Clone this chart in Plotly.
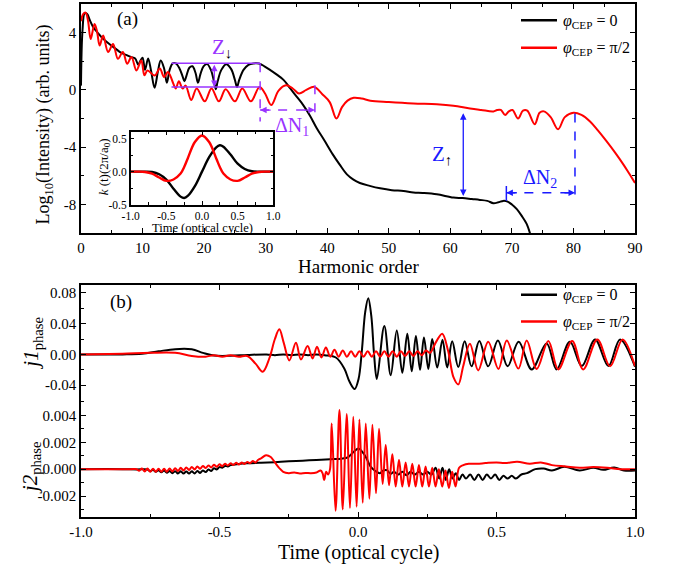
import plotly.graph_objects as go

# ---------------- panel (a): harmonic spectra ----------------
harm_cep0 = [0.0, 0.25, 0.6, 1.0, 1.4, 1.9, 2.4, 2.9, 3.5, 4.2, 4.9, 5.7, 6.5, 7.3, 8.1, 8.8, 9.3, 9.6,
             10.0, 10.4, 10.9, 11.4, 11.95, 12.5, 12.95, 13.5, 13.95, 14.4, 14.9, 15.4, 16.0, 16.5, 16.8,
             17.1, 17.6, 18.1, 18.6, 19.0, 19.4, 19.9, 20.5, 21.1, 21.6, 21.9, 22.2, 22.8, 23.6, 24.4,
             25.0, 25.35, 25.7, 26.4, 27.2, 28.0, 28.9, 29.8, 30.7, 31.7, 32.9, 34.0, 35.0, 36.1, 37.2,
             38.3, 39.5, 40.9, 42.0, 43.2, 44.2, 45.3, 46.9, 48.6, 50.5, 52.4, 54.0, 55.5, 57.8, 60.5,
             62.0, 63.5, 64.8, 66.0, 67.0, 67.8, 68.6, 69.3, 70.0, 70.8, 71.6, 72.4, 73.0]
logI_cep0 = [0.3, 4.2, 5.35, 5.3, 4.9, 4.45, 4.15, 3.9, 3.6, 3.35, 3.1, 2.85, 2.6, 2.45, 2.3, 2.2, 1.75, 2.0,
             2.25, 1.4, 2.2, 1.3, 0.15, 1.3, 2.05, 1.5, 0.5, 1.4, 1.85, 1.85, 1.5, 0.95, 0.6,
             0.95, 1.55, 1.65, 1.2, 0.5, 1.1, 1.65, 1.8, 1.4, 0.6, 0.05, 0.6, 1.4, 1.8, 1.45,
             0.7, 0.2, 0.7, 1.4, 1.75, 1.85, 1.85, 1.65, 1.4, 1.1, 0.7, 0.1, -0.45, -1.06, -1.8,
             -2.68, -3.5, -4.5, -5.2, -5.9, -6.25, -6.5, -6.7, -6.87, -7.0, -7.06, -7.17, -7.2, -7.29, -7.52,
             -7.55, -7.62, -7.68, -7.75, -7.91, -7.85, -7.75, -7.8, -8.0, -8.33, -8.8, -9.36, -10.1]

harm_cep90 = [0.0, 0.35, 0.75, 1.15, 1.57, 2.2, 2.6, 3.03, 3.6, 4.4, 5.2, 6.0, 6.8, 7.5, 8.2, 9.0, 9.8,
              10.3, 10.8, 11.97, 12.8, 13.5, 14.1, 14.5, 15.0, 15.4, 15.9, 16.5, 17.0, 17.9, 18.8, 20.1,
              21.2, 22.4, 23.5, 25.0, 26.2, 27.6, 29.0, 29.9, 30.9, 32.1, 33.3, 34.4, 35.4, 36.6, 37.9,
              39.2, 40.4, 41.5, 42.4, 43.3, 44.3, 45.6, 47.0, 50.0, 54.0, 57.8, 60.5, 63.2, 65.0, 67.0,
              67.6, 68.2, 68.9, 69.5, 70.1, 71.0, 71.8, 72.5, 73.7, 74.5, 75.2, 76.3, 77.5, 78.6, 80.0,
              81.3, 82.7, 84.0, 85.4, 86.8, 88.1, 89.0, 90.0]
logI_cep90 = [4.8, 5.3, 5.4, 4.8, 3.55, 4.6, 4.1, 3.1, 3.8, 2.65, 3.2, 2.17, 2.65, 1.82, 2.3, 1.36, 2.05,
              1.02, 1.36, 1.0, 1.5, 0.9, 1.25, 1.0, 0.44, 0.1, 0.6, 0.1, 0.3, -0.7, 0.1, -0.8,
              0.1, -0.8, 0.05, -0.8, 0.1, -0.8, 0.2, -0.25, -1.06, -0.05, 0.32, 0.1, -0.25, 0.0, 0.21,
              -0.3, -0.85, -2.0, -1.2, -0.75, -0.55, -0.6, -0.75, -0.85, -0.95, -1.0, -1.1, -1.3, -1.4, -1.5,
              -1.4, -1.4, -1.75, -1.5, -1.4, -2.0, -1.45, -1.45, -2.4, -1.6, -1.5, -1.9, -2.75, -1.9, -1.6,
              -1.75, -2.2, -2.85, -3.6, -4.4, -5.2, -5.8, -6.5]

# inset: k(t) in units of 2*pi/a0
t_k = [-1.0, -0.9, -0.8, -0.7, -0.6, -0.5, -0.4, -0.3, -0.25, -0.2, -0.1, 0.0,
       0.1, 0.2, 0.25, 0.3, 0.4, 0.5, 0.6, 0.7, 0.8, 0.9, 1.0]
k_cep0 = [0, 0, 0, -0.005, -0.04, -0.12, -0.26, -0.38, -0.40, -0.37, -0.22, 0.0,
          0.22, 0.37, 0.40, 0.38, 0.26, 0.12, 0.04, 0.005, 0, 0, 0]
k_cep90 = [0, 0, -0.005, -0.03, -0.09, -0.14, -0.12, -0.03, 0.07, 0.2, 0.45, 0.55,
           0.45, 0.2, 0.07, -0.03, -0.12, -0.14, -0.09, -0.03, -0.005, 0, 0]

# ---------------- panel (b): phase currents ----------------
t_j1_cep0 = [-1.0, -0.85, -0.78, -0.72, -0.66, -0.6, -0.56, -0.52, -0.46, -0.4, -0.33, -0.3, -0.27,
             -0.24, -0.21, -0.18, -0.15, -0.12, -0.08, -0.05, -0.03, -0.012, 0.002, 0.014, 0.026,
             0.037, 0.048, 0.058, 0.068, 0.095, 0.118, 0.14, 0.16, 0.178, 0.194, 0.209, 0.224,
             0.238, 0.254, 0.268, 0.286, 0.305, 0.322, 0.34, 0.362, 0.385, 0.41, 0.438, 0.47, 0.505,
             0.54, 0.58, 0.627, 0.681, 0.717, 0.765, 0.808, 0.856, 0.904, 0.946, 1.0]
j1_cep0 = [0.0, 0.0, 0.0008, 0.004, 0.0068, 0.0066, 0.002, -0.0015, -0.0018, -0.0008, 0.0, -0.001, 0.0,
           -0.001, 0.0, -0.001, 0.0, -0.001, -0.004, -0.018, -0.036, -0.045, -0.032, 0.005, 0.055,
           0.073, 0.05, 0.0, -0.032, 0.037, -0.027, 0.031, -0.024, 0.027, -0.022, 0.024, -0.020,
           0.022, -0.019, 0.020, -0.017, 0.019, -0.017, 0.017, -0.0165, 0.017, -0.0155, 0.0175, -0.0155, 0.018,
           -0.0155, 0.0165, -0.0195, 0.0143, -0.0195, 0.0165, -0.0152, 0.0195, -0.0152, 0.0195, -0.016]

t_j1_cep90 = [-1.0, -0.85, -0.75, -0.66, -0.6, -0.55, -0.52, -0.49, -0.46, -0.43, -0.40, -0.37, -0.344,
              -0.32, -0.30, -0.284, -0.268, -0.248, -0.224, -0.206, -0.182, -0.164, -0.148, -0.132, -0.116,
              -0.10, -0.085, -0.07, -0.055, -0.04, -0.025, -0.01, 0.005, 0.02, 0.035, 0.05, 0.065, 0.08,
              0.095, 0.11, 0.125, 0.14, 0.155, 0.17, 0.185, 0.2, 0.215, 0.23, 0.245, 0.26, 0.28, 0.304,
              0.325, 0.345, 0.362, 0.38, 0.404, 0.434, 0.47, 0.507, 0.537, 0.579, 0.609, 0.645, 0.687,
              0.723, 0.773, 0.813, 0.864, 0.91, 0.955, 1.0]
j1_cep90 = [0.0, 0.001, 0.002, 0.002, -0.002, -0.003, -0.001, -0.003, -0.001, -0.003, -0.002, -0.012, -0.0226,
            -0.005, 0.02, 0.0326, 0.015, -0.0078, 0.0152, -0.0065, 0.0109, -0.0052, 0.0100, -0.004, 0.0091,
            -0.003, 0.006, -0.003, 0.005, -0.003, 0.004, -0.003, 0.004, -0.003, 0.004, -0.003, 0.004, -0.003,
            0.004, -0.003, 0.004, -0.003, 0.004, -0.002, 0.004, -0.002, 0.004, -0.001, 0.005, 0.002, 0.015, 0.027,
            0.005, -0.03, -0.039, -0.015, 0.014, -0.0208, 0.0165, -0.019, 0.018, -0.0185, 0.018, -0.019, 0.0175,
            -0.0195, 0.0175, -0.0195, 0.0195, -0.0155, 0.0195, -0.0155]

t_j2_cep0 = [-1.0, -0.85, -0.8, -0.76, -0.75, -0.74, -0.73, -0.72, -0.71, -0.70, -0.69, -0.68, -0.67,
             -0.66, -0.65, -0.64, -0.63, -0.62, -0.61, -0.60, -0.59, -0.58, -0.57, -0.56, -0.55, -0.54,
             -0.53, -0.52, -0.51, -0.50, -0.49, -0.48, -0.47, -0.46, -0.43, -0.4, -0.35, -0.3, -0.25,
             -0.2, -0.15, -0.1, -0.06, -0.035, -0.015, 0.002, 0.015, 0.031, 0.045, 0.06, 0.079, 0.092,
             0.104, 0.118, 0.13, 0.145, 0.16, 0.175, 0.19, 0.205, 0.22, 0.235, 0.25, 0.265, 0.28, 0.293,
             0.305, 0.317, 0.329, 0.341, 0.353, 0.365, 0.377, 0.39, 0.405, 0.42, 0.435, 0.45, 0.465, 0.48,
             0.495, 0.51, 0.525, 0.54, 0.555, 0.57, 0.59, 0.61, 0.64, 0.67, 0.7, 0.745, 0.8, 0.85, 0.885,
             0.925, 0.96, 1.0]
j2_cep0 = [0.0, 0.0, -0.00002, -0.00002, -0.00015, -0.00005, -0.0002, -0.00008, -0.00024, -0.0001, -0.00027,
           -0.00013, -0.0003, -0.00015, -0.00032, -0.00016, -0.00033, -0.00017, -0.00033, -0.00016, -0.00032,
           -0.00014, -0.00028, -0.0001, -0.00022, -0.00003, -0.00013, 0.00006, -0.00002, 0.00015, 0.0001,
           0.00024, 0.0002, 0.0003, 0.00038, 0.00043, 0.00048, 0.00052, 0.00058, 0.00063, 0.00068, 0.00074,
           0.00078, 0.0009, 0.0013, 0.00153, 0.0013, 0.0008, 0.0002, -0.0001, -0.0003, -0.0001, -0.00007,
           -0.00035, -0.0002, -0.0004, -0.0002, -0.00045, -0.0002, -0.0004, -0.0002, -0.0004, -0.0002,
           -0.0004, 0.0001, -0.0007, 0.0001, -0.0008, 0.0, -0.0007, -0.0003, -0.0008, -0.0004, -0.0007,
           -0.0004, -0.0008, -0.0004, -0.0008, -0.0004, -0.0007, -0.0004, -0.0008, -0.0005, -0.0007, -0.0005,
           -0.0007, -0.0004, -0.0003, 0.0, 0.00005, -0.0001, 0.00017, -0.0001, 0.0001, -0.00005, 0.00012,
           -0.0001, -0.0001]

t_j2_cep90 = [-1.0, -0.82, -0.80, -0.79, -0.78, -0.77, -0.76, -0.75, -0.74, -0.73, -0.72, -0.71, -0.70,
              -0.69, -0.68, -0.67, -0.66, -0.65, -0.64, -0.63, -0.62, -0.61, -0.60, -0.59, -0.58, -0.57,
              -0.56, -0.55, -0.54, -0.53, -0.52, -0.51, -0.50, -0.49, -0.48, -0.47, -0.46, -0.45, -0.44,
              -0.43, -0.42, -0.41, -0.40, -0.39, -0.38, -0.37, -0.36, -0.35, -0.332, -0.315, -0.3, -0.285,
              -0.27, -0.25, -0.23, -0.21, -0.19, -0.17, -0.15, -0.135, -0.128, -0.122, -0.115, -0.108,
              -0.101, -0.095, -0.081, -0.067, -0.055, -0.041, -0.029, -0.017, -0.005, 0.005, 0.017, 0.028,
              0.041, 0.052, 0.065, 0.076, 0.089, 0.100, 0.112, 0.124, 0.136, 0.148, 0.160, 0.172, 0.184,
              0.196, 0.208, 0.220, 0.232, 0.244, 0.256, 0.268, 0.280, 0.292, 0.304, 0.316, 0.328, 0.340,
              0.352, 0.365, 0.38, 0.4, 0.43, 0.46, 0.5, 0.53, 0.575, 0.62, 0.66, 0.7, 0.75, 0.8, 0.85,
              0.9, 0.95, 1.0]
j2_cep90 = [0.0, 0.0, 0.0, -0.00012, 0.00005, -0.00018, 0.00004, -0.0002, 0.00003, -0.0002, 0.00003, -0.0002,
            0.00003, -0.00019, 0.00005, -0.00017, 0.00007, -0.00014, 0.0001, -0.0001, 0.00013, -0.00006,
            0.00016, -0.00002, 0.0002, 0.00003, 0.00024, 0.00008, 0.00028, 0.00013, 0.00032, 0.00018,
            0.00036, 0.00022, 0.0004, 0.00027, 0.00044, 0.0003, 0.00047, 0.00034, 0.0005, 0.00038, 0.00054,
            0.00044, 0.0006, 0.0005, 0.0007, 0.0008, 0.00104, 0.0009, 0.0005, 0.0001, -0.0002, -0.0003,
            -0.00025, -0.00032, -0.00028, -0.0003, -0.00025, -0.0001, -0.0003, -0.0008, -0.0002, -0.0004,
            0.0, 0.0034, -0.0031, 0.0044, -0.0030, 0.0041, -0.0029, 0.0039, -0.0028, 0.0037, -0.0025, 0.0034,
            -0.0022, 0.0033, -0.0018, 0.0030, -0.0011, 0.0018, -0.0012, 0.0011, -0.0013, 0.0007, -0.0013,
            0.0005, -0.0013, 0.0004, -0.0013, 0.0003, -0.0013, 0.0002, -0.0013, 0.0001, -0.0013, 0.0,
            -0.0013, -0.0001, -0.0014, -0.0002, -0.0013, 0.0001, 0.0003, 0.0004, 0.0004, 0.00045, 0.0005,
            0.00045, 0.00055, 0.0004, 0.0005, 0.0003, 0.0002, 0.0001, 0.00015, 0.0001, 0.0, 0.0]

# tick labels (hyphen minus, as typeset)
harm_ticks = [0, 10, 20, 30, 40, 50, 60, 70, 80, 90]
logI_ticks = [-8, -4, 0, 4]
logI_ticktext = ["-8", "-4", "0", "4"]
cycle_ticks = [-1.0, -0.5, 0.0, 0.5, 1.0]
cycle_ticktext = ["-1.0", "-0.5", "0.0", "0.5", "1.0"]
k_ticks = [-0.5, 0.0, 0.5]
k_ticktext = ["-0.5", "0.0", "0.5"]
j1_ticks = [-0.04, 0.0, 0.04, 0.08]
j1_ticktext = ["-0.04", "0.00", "0.04", "0.08"]
j2_ticks = [-0.002, 0.0, 0.002, 0.004]
j2_ticktext = ["-0.002", "0.000", "0.002", "0.004"]

# ---------------- figure geometry ----------------
W, H = 678, 570
L, R, T, B = 81, 635, 2, 517


def fx(px):
    return (px - L) / (R - L)


def fy(py):
    return (B - py) / (B - T)


FONT = "Liberation Serif"
BLACK = "#000000"
RED = "#ff0000"
PURPLE = "#9933ff"
BLUE = "#1a1aff"

fig = go.Figure()

line_kw = dict(shape="spline", smoothing=1.0, width=2)

fig.add_trace(go.Scatter(x=harm_cep0, y=logI_cep0, mode="lines", xaxis="x", yaxis="y",
                         line=dict(color=BLACK, **line_kw), showlegend=False))
fig.add_trace(go.Scatter(x=harm_cep90, y=logI_cep90, mode="lines", xaxis="x", yaxis="y",
                         line=dict(color=RED, **line_kw), showlegend=False))

fig.add_trace(go.Scatter(x=t_k, y=k_cep0, mode="lines", xaxis="x4", yaxis="y4",
                         line=dict(color=BLACK, shape="spline", width=2.4), showlegend=False))
fig.add_trace(go.Scatter(x=t_k, y=k_cep90, mode="lines", xaxis="x4", yaxis="y4",
                         line=dict(color=RED, shape="spline", width=2.4), showlegend=False))

fig.add_trace(go.Scatter(x=t_j1_cep0, y=j1_cep0, mode="lines", xaxis="x2", yaxis="y2",
                         line=dict(color=BLACK, **line_kw), showlegend=False))
fig.add_trace(go.Scatter(x=t_j1_cep90, y=j1_cep90, mode="lines", xaxis="x2", yaxis="y2",
                         line=dict(color=RED, **line_kw), showlegend=False))
fig.add_trace(go.Scatter(x=t_j2_cep0, y=j2_cep0, mode="lines", xaxis="x3", yaxis="y3",
                         line=dict(color=BLACK, **line_kw), showlegend=False))
fig.add_trace(go.Scatter(x=t_j2_cep90, y=j2_cep90, mode="lines", xaxis="x3", yaxis="y3",
                         line=dict(color=RED, **line_kw), showlegend=False))

tickfont = dict(family=FONT, size=15, color=BLACK)
axis_common = dict(showline=True, linecolor=BLACK, linewidth=1.5, ticks="inside", ticklen=5,
                   tickwidth=1.2, tickcolor=BLACK, showgrid=False, zeroline=False,
                   tickfont=tickfont, tickmode="array")
inset_common = {**axis_common, "tickfont": dict(family=FONT, size=11.5, color=BLACK), "ticklen": 4}


def minor(dt):
    return dict(tickmode="linear", tick0=0, dtick=dt, ticks="inside", ticklen=3,
                tickcolor=BLACK, tickwidth=1, showgrid=False)


fig.update_layout(
    width=W, height=H,
    margin=dict(l=L, r=W - R, t=T, b=H - B),
    paper_bgcolor="white", plot_bgcolor="white",
    font=dict(family=FONT, color=BLACK),
    xaxis=dict(domain=[0, 1], anchor="y", range=[0, 90], tickvals=harm_ticks, mirror="ticks",
               minor=minor(5), **axis_common),
    yaxis=dict(domain=[fy(232), 1.0], anchor="x", range=[-10, 6], tickvals=logI_ticks,
               ticktext=logI_ticktext, mirror="ticks", minor=minor(2), **axis_common),
    xaxis4=dict(domain=[fx(130.7), fx(273.3)], anchor="y4", range=[-1, 1], tickvals=cycle_ticks,
                ticktext=cycle_ticktext, mirror="ticks", minor=minor(0.25), **inset_common),
    yaxis4=dict(domain=[fy(203.3), fy(130)], anchor="x4", range=[-0.5, 0.61], tickvals=k_ticks,
                ticktext=k_ticktext, mirror="ticks", minor=minor(0.25), **inset_common),
    xaxis2=dict(domain=[0, 1], anchor="y2", side="top", range=[-1, 1], tickvals=cycle_ticks,
                showticklabels=False, minor=minor(0.25), **axis_common),
    yaxis2=dict(domain=[fy(400), fy(284)], anchor="x2", range=[-0.0599, 0.0904], tickvals=j1_ticks,
                ticktext=j1_ticktext, mirror="ticks", minor=minor(0.02), **axis_common),
    xaxis3=dict(domain=[0, 1], anchor="y3", range=[-1, 1], tickvals=cycle_ticks,
                ticktext=cycle_ticktext, minor=minor(0.25), **axis_common),
    yaxis3=dict(domain=[0, fy(400)], anchor="x3", range=[-0.00356, 0.00511], tickvals=j2_ticks,
                ticktext=j2_ticktext, mirror="ticks", minor=minor(0.001), **axis_common),
)

ann = []
shapes = []


def text_px(px, py, txt, size, color=BLACK, angle=0, xanchor="center"):
    ann.append(dict(x=fx(px), y=fy(py), xref="paper", yref="paper", text=txt, showarrow=False,
                    font=dict(family=FONT, size=size, color=color), textangle=angle,
                    xanchor=xanchor, yanchor="middle"))


# axis titles
text_px(45, 123, "Log<sub>10</sub>(Intensity) (arb. units)", 18, angle=-90)
text_px(358, 266, "Harmonic order", 19)
text_px(358, 553, "Time (optical cycle)", 20)
text_px(32, 343, "<i>j1</i><sub>phase</sub>", 21, angle=-90)
text_px(31, 468, "<i>j2</i><sub>phase</sub>", 21, angle=-90)
text_px(104, 166, "<i>k</i> (t)(2π/a<sub>0</sub>)", 13, angle=-90)
text_px(202, 227, "Time (optical cycle)", 12.5)
text_px(127, 17, "(a)", 19)
text_px(121, 301, "(b)", 19)

# legends
legend_rows = [(18.3, BLACK, "<i>φ</i><sub>CEP</sub> = 0"), (46.0, RED, "<i>φ</i><sub>CEP</sub> = π/2"),
               (294.0, BLACK, "<i>φ</i><sub>CEP</sub> = 0"), (320.7, RED, "<i>φ</i><sub>CEP</sub> = π/2")]
for py, col, lab in legend_rows:
    shapes.append(dict(type="line", xref="paper", yref="paper", x0=fx(521), x1=fx(557),
                       y0=fy(py), y1=fy(py), line=dict(color=col, width=2.5)))
    text_px(561, py + 1, lab, 16, xanchor="left")

# Z-down marker (purple)
for yv in (1.87, 0.21):
    shapes.append(dict(type="line", xref="x", yref="y", x0=14.7, x1=29.1, y0=yv, y1=yv,
                       line=dict(color=PURPLE, width=1.5)))
ann.append(dict(x=21.66, y=0.21, ax=21.66, ay=1.87, xref="x", yref="y", axref="x", ayref="y",
                text="", showarrow=True, arrowhead=2, arrowside="end+start", arrowsize=1,
                arrowwidth=1.3, arrowcolor=PURPLE, standoff=0, startstandoff=0))
ann.append(dict(x=22.9, y=2.9, xref="x", yref="y", showarrow=False,
                text="Z<sub><span style='color:black'>↓</span></sub>",
                font=dict(family=FONT, size=21, color=PURPLE)))

# Delta N1 (purple, dashed)
shapes.append(dict(type="line", xref="x", yref="y", x0=29.1, x1=29.1, y0=1.87, y1=-2.2,
                   line=dict(color=PURPLE, width=1.5, dash="dash")))
shapes.append(dict(type="line", xref="x", yref="y", x0=38.0, x1=38.0, y0=0.32, y1=-1.64,
                   line=dict(color=PURPLE, width=1.5, dash="dash")))
shapes.append(dict(type="line", xref="x", yref="y", x0=29.1, x1=38.0, y0=-1.41, y1=-1.41,
                   line=dict(color=PURPLE, width=1.5, dash="dash")))
for xh, off in ((29.1, 12), (38.0, -12)):
    ann.append(dict(x=xh, y=-1.41, xref="x", yref="y", ax=off, ay=0, text="", showarrow=True,
                    arrowhead=2, arrowsize=1, arrowwidth=1.3, arrowcolor=PURPLE, standoff=0))
ann.append(dict(x=34.3, y=-2.56, xref="x", yref="y", showarrow=False, text="ΔN<sub>1</sub>",
                font=dict(family=FONT, size=20, color=PURPLE)))

# Z-up marker (blue)
ann.append(dict(x=62.1, y=-7.4, ax=62.1, ay=-1.52, xref="x", yref="y", axref="x", ayref="y",
                text="", showarrow=True, arrowhead=2, arrowside="end+start", arrowsize=1,
                arrowwidth=1.3, arrowcolor=BLUE, standoff=0, startstandoff=0))
ann.append(dict(x=58.6, y=-4.57, xref="x", yref="y", showarrow=False,
                text="Z<sub><span style='color:black'>↑</span></sub>",
                font=dict(family=FONT, size=21, color=BLUE)))

# Delta N2 (blue, dashed)
shapes.append(dict(type="line", xref="x", yref="y", x0=80.25, x1=80.25, y0=-1.64, y1=-7.87,
                   line=dict(color=BLUE, width=1.5, dash="dash")))
shapes.append(dict(type="line", xref="x", yref="y", x0=69.1, x1=69.1, y0=-6.71, y1=-7.75,
                   line=dict(color=BLUE, width=1.5)))
shapes.append(dict(type="line", xref="x", yref="y", x0=69.1, x1=80.25, y0=-7.18, y1=-7.18,
                   line=dict(color=BLUE, width=1.5, dash="dash")))
for xh, off in ((69.1, 12), (80.25, -12)):
    ann.append(dict(x=xh, y=-7.18, xref="x", yref="y", ax=off, ay=0, text="", showarrow=True,
                    arrowhead=2, arrowsize=1, arrowwidth=1.3, arrowcolor=BLUE, standoff=0))
ann.append(dict(x=74.6, y=-6.16, xref="x", yref="y", showarrow=False, text="ΔN<sub>2</sub>",
                font=dict(family=FONT, size=20, color=BLUE)))

fig.update_layout(annotations=ann, shapes=shapes)

fig.write_html("out.html")
